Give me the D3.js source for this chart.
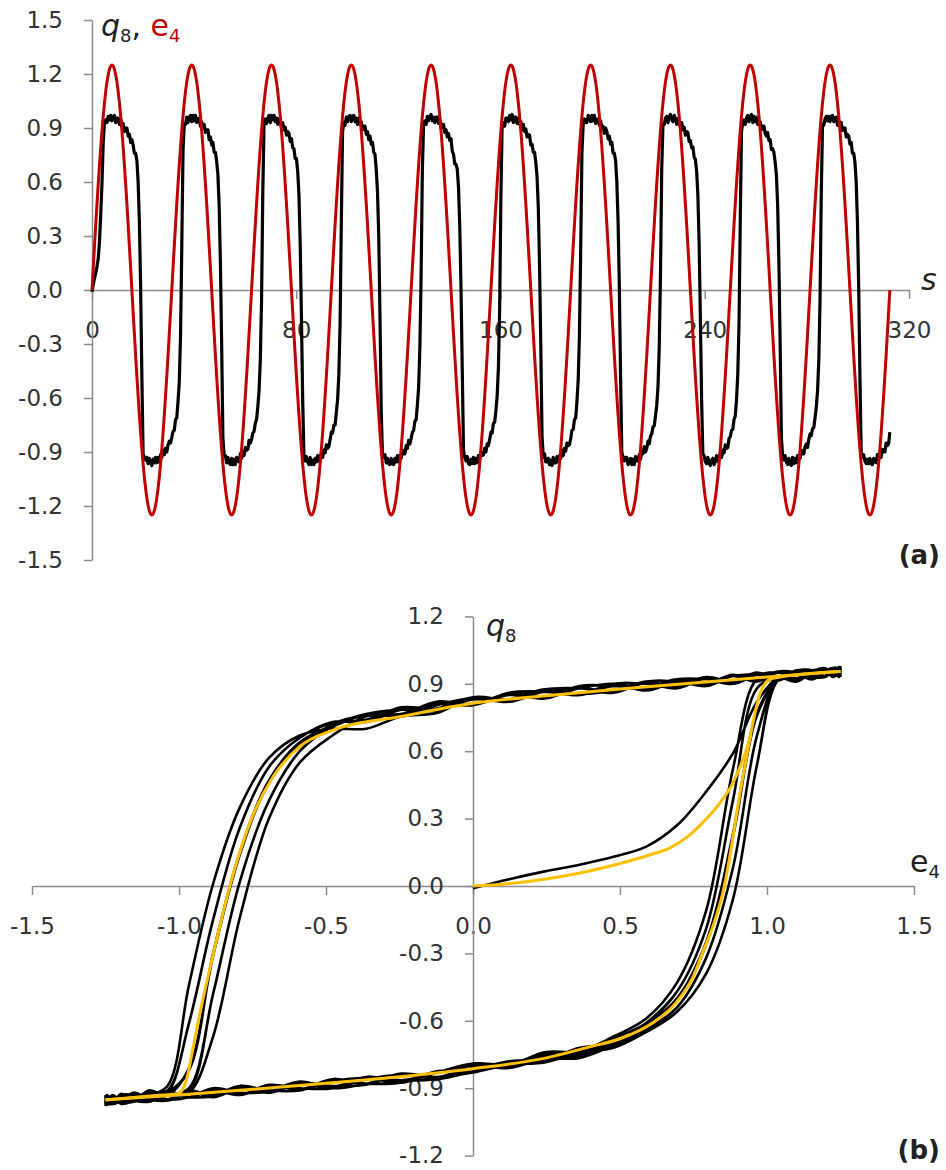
<!DOCTYPE html>
<html>
<head>
<meta charset="utf-8">
<script src="https://cdn.jsdelivr.net/npm/d3@7"></script>
<style>
  body { margin: 0; background: #fff; }
  svg { display: block; }
</style>
</head>
<body>
<div id="chart"></div>
<script>
    // ---- data ----
    // one period of the drive e4 (64 samples), repeated for every period
    periodSeconds = 31.25
    e4Period = [0, 0.123, 0.244, 0.363, 0.478, 0.589, 0.694, 0.793, 0.884, 0.966, 1.039, 1.102, 1.155, 1.196, 1.226, 1.244,
        1.25, 1.244, 1.226, 1.196, 1.155, 1.102, 1.039, 0.966, 0.884, 0.793, 0.694, 0.589, 0.478, 0.363, 0.244, 0.123,
        0, -0.123, -0.244, -0.363, -0.478, -0.589, -0.694, -0.793, -0.884, -0.966, -1.039, -1.102, -1.155, -1.196, -1.226, -1.244,
        -1.25, -1.244, -1.226, -1.196, -1.155, -1.102, -1.039, -0.966, -0.884, -0.793, -0.694, -0.589, -0.478, -0.363, -0.244, -0.123]

    // response q8, one row per period, same sample instants as e4Period
    q8Periods = [
        [-0.01, 0.03, 0.065, 0.095, 0.13, 0.175, 0.27, 0.42, 0.59, 0.82, 0.93,
         0.945, 0.93, 0.965, 0.945, 0.97, 0.94, 0.965, 0.97, 0.93, 0.955, 0.955, 0.92, 0.95, 0.91, 0.925, 0.88, 0.90, 0.90, 0.855, 0.865, 0.82, 0.835, 0.805, 0.76, 0.76, 0.72,
         0.60, 0.38, 0.02, -0.48, -0.91, -0.93,
         -0.945, -0.93, -0.965, -0.935, -0.96, -0.975, -0.94, -0.96, -0.93, -0.96, -0.93, -0.955, -0.915, -0.93, -0.89, -0.915, -0.88, -0.90, -0.86, -0.84, -0.85],
        [-0.82, -0.785, -0.78, -0.72, -0.71, -0.62, -0.51, -0.26, 0.23, 0.77, 0.92,
         0.92, 0.96, 0.93, 0.96, 0.97, 0.935, 0.97, 0.94, 0.97, 0.93, 0.95, 0.955, 0.91, 0.935, 0.90, 0.92, 0.875, 0.89, 0.89, 0.835, 0.85, 0.805, 0.82, 0.765, 0.765, 0.715,
         0.64, 0.47, 0.15, -0.30, -0.82, -0.92,
         -0.92, -0.96, -0.93, -0.96, -0.97, -0.935, -0.97, -0.94, -0.97, -0.93, -0.95, -0.955, -0.91, -0.935, -0.90, -0.92, -0.875, -0.89, -0.885, -0.835, -0.85],
        [-0.83, -0.795, -0.785, -0.74, -0.72, -0.65, -0.56, -0.39, -0.06, 0.54, 0.92,
         0.95, 0.925, 0.955, 0.97, 0.93, 0.97, 0.945, 0.97, 0.935, 0.955, 0.92, 0.95, 0.94, 0.90, 0.93, 0.89, 0.905, 0.86, 0.88, 0.87, 0.825, 0.84, 0.79, 0.785, 0.73, 0.73,
         0.66, 0.53, 0.26, -0.15, -0.61, -0.92,
         -0.95, -0.925, -0.955, -0.97, -0.93, -0.97, -0.945, -0.97, -0.935, -0.955, -0.92, -0.95, -0.94, -0.90, -0.93, -0.89, -0.905, -0.86, -0.88, -0.87, -0.83],
        [-0.79, -0.795, -0.75, -0.75, -0.68, -0.61, -0.47, -0.19, 0.38, 0.88, 0.93,
         0.915, 0.96, 0.935, 0.965, 0.97, 0.935, 0.965, 0.97, 0.935, 0.955, 0.92, 0.955, 0.92, 0.935, 0.89, 0.91, 0.91, 0.865, 0.88, 0.835, 0.855, 0.81, 0.82, 0.765, 0.755,
         0.67, 0.55, 0.30, -0.14, -0.67, -0.92, -0.93,
         -0.915, -0.96, -0.935, -0.965, -0.97, -0.935, -0.965, -0.97, -0.935, -0.955, -0.92, -0.955, -0.92, -0.935, -0.89, -0.91, -0.91, -0.865, -0.88, -0.835, -0.855],
        [-0.825, -0.79, -0.78, -0.73, -0.72, -0.64, -0.54, -0.32, 0.08, 0.67, 0.92,
         0.94, 0.92, 0.965, 0.94, 0.965, 0.975, 0.94, 0.96, 0.93, 0.96, 0.96, 0.925, 0.945, 0.90, 0.92, 0.92, 0.875, 0.89, 0.85, 0.87, 0.83, 0.84, 0.77, 0.755, 0.70, 0.70,
         0.67, 0.57, 0.35, 0.01, -0.44, -0.89, -0.93,
         -0.95, -0.925, -0.965, -0.97, -0.94, -0.965, -0.93, -0.965, -0.935, -0.96, -0.92, -0.94, -0.90, -0.92, -0.915, -0.88, -0.90, -0.855, -0.865, -0.83],
        [-0.79, -0.795, -0.74, -0.735, -0.67, -0.59, -0.43, -0.11, 0.52, 0.92, 0.93,
         0.91, 0.955, 0.955, 0.935, 0.97, 0.945, 0.975, 0.93, 0.96, 0.96, 0.925, 0.955, 0.92, 0.935, 0.89, 0.92, 0.88, 0.895, 0.85, 0.865, 0.86, 0.805, 0.81, 0.765, 0.765, 0.71,
         0.63, 0.46, 0.14, -0.31, -0.81, -0.93,
         -0.91, -0.955, -0.955, -0.935, -0.97, -0.945, -0.975, -0.93, -0.96, -0.96, -0.925, -0.955, -0.92, -0.935, -0.89, -0.92, -0.88, -0.895, -0.85, -0.865, -0.86],
        [-0.825, -0.78, -0.775, -0.72, -0.71, -0.62, -0.50, -0.25, 0.22, 0.76, 0.92,
         0.95, 0.93, 0.93, 0.97, 0.96, 0.935, 0.97, 0.94, 0.97, 0.925, 0.95, 0.95, 0.915, 0.94, 0.90, 0.91, 0.87, 0.90, 0.88, 0.84, 0.855, 0.81, 0.82, 0.76, 0.76, 0.72,
         0.60, 0.38, 0.02, -0.48, -0.90, -0.93,
         -0.95, -0.93, -0.93, -0.97, -0.96, -0.935, -0.97, -0.94, -0.97, -0.925, -0.95, -0.95, -0.915, -0.94, -0.90, -0.91, -0.87, -0.90, -0.88, -0.84, -0.855],
        [-0.81, -0.80, -0.76, -0.755, -0.70, -0.64, -0.54, -0.32, 0.08, 0.67, 0.92,
         0.92, 0.955, 0.965, 0.93, 0.96, 0.975, 0.945, 0.935, 0.97, 0.955, 0.92, 0.95, 0.94, 0.905, 0.93, 0.89, 0.905, 0.86, 0.88, 0.875, 0.825, 0.83, 0.79, 0.795, 0.74, 0.725,
         0.66, 0.53, 0.26, -0.15, -0.61, -0.91,
         -0.92, -0.955, -0.965, -0.93, -0.96, -0.975, -0.945, -0.935, -0.97, -0.955, -0.92, -0.95, -0.94, -0.905, -0.93, -0.89, -0.905, -0.86, -0.88, -0.875, -0.825],
        [-0.815, -0.78, -0.775, -0.72, -0.70, -0.61, -0.47, -0.19, 0.38, 0.88, 0.93,
         0.945, 0.92, 0.955, 0.97, 0.935, 0.965, 0.975, 0.93, 0.965, 0.935, 0.96, 0.92, 0.94, 0.935, 0.89, 0.91, 0.91, 0.87, 0.855, 0.875, 0.83, 0.835, 0.78, 0.785, 0.765, 0.71,
         0.64, 0.47, 0.15, -0.30, -0.82, -0.92,
         -0.945, -0.92, -0.955, -0.97, -0.935, -0.965, -0.975, -0.93, -0.965, -0.935, -0.96, -0.92, -0.94, -0.935, -0.89, -0.91, -0.91, -0.87, -0.855, -0.875, -0.83],
        [-0.80, -0.81, -0.77, -0.765, -0.71, -0.65, -0.56, -0.39, -0.06, 0.54, 0.92,
         0.915, 0.95, 0.965, 0.94, 0.965, 0.935, 0.965, 0.97, 0.935, 0.955, 0.96, 0.915, 0.94, 0.91, 0.93, 0.885, 0.90, 0.90, 0.85, 0.865, 0.855, 0.81, 0.82, 0.76, 0.76, 0.71,
         0.60, 0.38, 0.02, -0.48, -0.90, -0.93,
         -0.915, -0.95, -0.965, -0.94, -0.965, -0.935, -0.965, -0.97, -0.935, -0.955, -0.96, -0.915, -0.94, -0.91, -0.93, -0.885, -0.90, -0.90, -0.85, -0.865, -0.855]
    ]
    q8Last = -0.79   // value at the end of the last period

    // model curves (yellow) in the q8 - e4 plane, [e4, q8]
    fitInitial = [[0, 0], [0.1, 0.008], [0.2, 0.022], [0.3, 0.042], [0.4, 0.068], [0.5, 0.1], [0.6, 0.138], [0.67, 0.17],
        [0.73, 0.22], [0.78, 0.28], [0.84, 0.37], [0.885, 0.46], [0.92, 0.57], [0.945, 0.67]]
    fitDown = [[-1.25, -0.952], [-1.1, -0.935], [-1.0, -0.922], [-0.985, -0.9], [-0.974, -0.86], [-0.955, -0.74], [-0.934, -0.6],
        [-0.883, -0.3], [-0.815, 0.056], [-0.75, 0.31], [-0.68, 0.486], [-0.59, 0.62], [-0.475, 0.694], [-0.25, 0.753],
        [0, 0.813], [0.25, 0.847], [0.5, 0.877], [0.75, 0.904], [1.0, 0.93], [1.25, 0.955]]
    fitUp = [[-1.25, -0.952], [-1.0, -0.93], [-0.75, -0.905], [-0.5, -0.878], [-0.25, -0.849], [0, -0.813], [0.25, -0.765],
        [0.4, -0.715], [0.5, -0.68], [0.61, -0.61], [0.69, -0.52], [0.75, -0.40], [0.78, -0.30], [0.82, -0.165], [0.85, -0.03],
        [0.918, 0.486], [0.975, 0.85], [0.995, 0.905], [1.02, 0.925], [1.25, 0.955]]

    ticksTime = [0, 80, 160, 240, 320]
    ticksQa = [-1.5, -1.2, -0.9, -0.6, -0.3, 0, 0.3, 0.6, 0.9, 1.2, 1.5]
    ticksE = [-1.5, -1.0, -0.5, 0, 0.5, 1.0, 1.5]
    ticksQb = [-1.2, -0.9, -0.6, -0.3, 0, 0.3, 0.6, 0.9, 1.2]

    // ---- samples ----
    step = periodSeconds / e4Period.length
    samples = []
    q8Periods.forEach((row, c) => {
        row.forEach((q, k) => samples.push({t: (c * e4Period.length + k) * step, e: e4Period[k], q: q}))
    })
    samples.push({t: q8Periods.length * periodSeconds, e: e4Period[0], q: q8Last})

    // ---- setup ----
    canvas = ({width: 946, height: 1170})
    gray = "#8c8c8c"
    ink = "#333"
    red = "#c00000"
    gold = "#ffc000"
    font = "DejaVu Sans, sans-serif"

    var svg = d3.select("#chart").append("svg")
        .attr("width", canvas.width)
        .attr("height", canvas.height)
        .attr("viewBox", [0, 0, canvas.width, canvas.height])

    function styleAxis(g) {
        g.attr("font-family", font).attr("font-size", 23)
        g.select(".domain").attr("stroke", gray).attr("stroke-width", 1.5)
        g.selectAll(".tick line").attr("stroke", gray).attr("stroke-width", 1.5)
        g.selectAll(".tick text").attr("fill", ink)
    }

    // axis title with subscripts, parts = [{text, sub, italic, color}]
    function title(x, y, parts) {
        var t = svg.append("text")
            .attr("x", x).attr("y", y)
            .attr("font-family", font)
            .attr("font-size", 30)
            .style("white-space", "pre")
        var shift = 0
        parts.forEach(p => {
            var s = p.sub ? 6 : 0
            t.append("tspan")
                .attr("dy", s - shift)
                .attr("font-size", p.sub ? 18 : 30)
                .attr("font-style", p.italic ? "italic" : null)
                .attr("fill", p.color || "#222")
                .text(p.text)
            shift = s
        })
    }

    // ---- panel (a): time series ----
    xA = d3.scaleLinear().domain([0, 320]).range([92, 909])
    yA = d3.scaleLinear().domain([-1.5, 1.5]).range([560, 20])

    svg.append("g")
        .attr("transform", `translate(0,${yA(0)})`)
        .call(d3.axisBottom(xA).tickValues(ticksTime).tickSize(9).tickSizeOuter(0).tickPadding(23).tickFormat(d => d))
        .call(styleAxis)

    svg.append("g")
        .attr("transform", `translate(${xA(0)},0)`)
        .call(d3.axisLeft(yA).tickValues(ticksQa).tickSize(8).tickSizeOuter(0).tickPadding(21).tickFormat(d => d.toFixed(1)))
        .call(styleAxis)

    svg.append("path")
        .attr("fill", "none")
        .attr("stroke", "#000")
        .attr("stroke-width", 3.2)
        .attr("stroke-linejoin", "round")
        .attr("d", d3.line().x(d => xA(d.t)).y(d => yA(d.q))(samples))

    svg.append("path")
        .attr("fill", "none")
        .attr("stroke", red)
        .attr("stroke-width", 3)
        .attr("stroke-linejoin", "round")
        .attr("d", d3.line().x(d => xA(d.t)).y(d => yA(d.e)).curve(d3.curveMonotoneX)(samples))

    title(101, 36, [{text: "q", italic: true}, {text: "8", sub: true}, {text: ", "}, {text: "e", color: red}, {text: "4", sub: true, color: red}])
    title(921, 290, [{text: "s", italic: true}])

    svg.append("text")
        .attr("x", 940).attr("y", 564)
        .attr("text-anchor", "end")
        .attr("font-family", font).attr("font-weight", "bold").attr("font-size", 26)
        .attr("fill", "#222")
        .text("(a)")

    // ---- panel (b): q8 against e4 ----
    xB = d3.scaleLinear().domain([-1.5, 1.5]).range([32, 914])
    yB = d3.scaleLinear().domain([-1.2, 1.2]).range([1155.6, 616.4])

    svg.append("g")
        .attr("transform", `translate(0,${yB(0)})`)
        .call(d3.axisBottom(xB).tickValues(ticksE).tickSize(9).tickSizeOuter(0).tickPadding(23).tickFormat(d => d.toFixed(1)))
        .call(styleAxis)

    svg.append("g")
        .attr("transform", `translate(${xB(0)},0)`)
        .call(d3.axisLeft(yB).tickValues(ticksQb).tickSize(8).tickSizeOuter(0).tickPadding(21).tickFormat(d => d.toFixed(1)))
        .call(styleAxis)

    svg.append("path")
        .attr("fill", "none")
        .attr("stroke", "#000")
        .attr("stroke-width", 2.6)
        .attr("stroke-linejoin", "round")
        .attr("d", d3.line().x(d => xB(d.e)).y(d => yB(d.q)).curve(d3.curveCatmullRom.alpha(0.5))(samples))

    fitLine = d3.line().x(d => xB(d[0])).y(d => yB(d[1])).curve(d3.curveMonotoneX)
    ;[fitInitial, fitDown, fitUp].forEach(f => {
        svg.append("path")
            .attr("fill", "none")
            .attr("stroke", gold)
            .attr("stroke-width", 3)
            .attr("stroke-linejoin", "round")
            .attr("d", fitLine(f))
    })

    title(486, 636, [{text: "q", italic: true}, {text: "8", sub: true}])
    title(910, 872, [{text: "e"}, {text: "4", sub: true}])

    svg.append("text")
        .attr("x", 940).attr("y", 1159)
        .attr("text-anchor", "end")
        .attr("font-family", font).attr("font-weight", "bold").attr("font-size", 26)
        .attr("fill", "#222")
        .text("(b)")
</script>
</body>
</html>
